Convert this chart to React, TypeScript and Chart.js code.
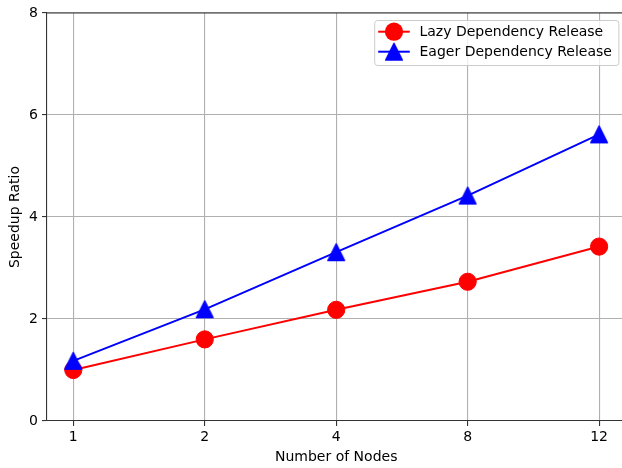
import React, { useEffect, useRef } from "react";
import { Chart, registerables } from "chart.js";

Chart.register(...registerables);

const nodeCounts = ["1", "2", "4", "8", "12"];
const lazySpeedup = [1.0, 1.6, 2.18, 2.73, 3.42];
const eagerSpeedup = [1.18, 2.19, 3.31, 4.42, 5.62];
const seriesNames = ["Lazy Dependency Release", "Eager Dependency Release"];
const seriesColors = ["#ff0000", "#0000ff"];
const yMin = 0;
const yMax = 8;
const yStep = 2;
const xTitle = "Number of Nodes";
const yTitle = "Speedup Ratio";

const FONT = "'DejaVu Sans', 'Liberation Sans', sans-serif";

function makeTriangle(color: string): HTMLCanvasElement {
  const c = document.createElement("canvas");
  c.width = 22;
  c.height = 22;
  const g = c.getContext("2d")!;
  const cx = 11, cy = 11, s = 8.35;
  g.beginPath();
  g.moveTo(cx, cy - s);
  g.lineTo(cx - s, cy + s);
  g.lineTo(cx + s, cy + s);
  g.closePath();
  g.fillStyle = color;
  g.fill();
  g.lineJoin = "round";
  g.lineWidth = 1.39;
  g.strokeStyle = color;
  g.stroke();
  return c;
}

const spinesPlugin = {
  id: "spines",
  afterDatasetsDraw(chart: any) {
    const { ctx, chartArea: a } = chart;
    ctx.save();
    ctx.strokeStyle = "#333";
    ctx.lineWidth = 1.1;
    ctx.beginPath();
    ctx.moveTo(a.left, a.top);
    ctx.lineTo(a.right, a.top);
    ctx.lineTo(a.right, a.bottom);
    ctx.stroke();
    ctx.restore();
  },
};

const legendPlugin = {
  id: "mplLegend",
  afterDraw(chart: any) {
    const { ctx, chartArea: a } = chart;
    ctx.save();
    ctx.font = `14px ${FONT}`;
    const items = chart.data.datasets.map((ds: any) => ({
      label: ds.label,
      color: ds.borderColor,
      style: ds.pointStyle,
      radius: ds.pointRadius,
    }));
    const textW = Math.max(...items.map((i: any) => ctx.measureText(i.label).width));
    const right = a.right - 7;
    const top = a.top + 7;
    const w = 45.3 + textW + 6.5;
    const h = 45;
    const left = right - w;
    ctx.beginPath();
    if ((ctx as any).roundRect) (ctx as any).roundRect(left + 0.5, top + 0.5, w, h, 3);
    else ctx.rect(left + 0.5, top + 0.5, w, h);
    ctx.fillStyle = "rgba(255,255,255,0.8)";
    ctx.fill();
    ctx.strokeStyle = "#cccccc";
    ctx.lineWidth = 1;
    ctx.stroke();
    items.forEach((it: any, i: number) => {
      const cy = top + 11.7 + i * 20;
      ctx.beginPath();
      ctx.strokeStyle = it.color;
      ctx.lineWidth = 2;
      ctx.moveTo(left + 4, cy);
      ctx.lineTo(left + 35.6, cy);
      ctx.stroke();
      const mx = left + 19.8;
      if (it.style instanceof HTMLCanvasElement) {
        ctx.drawImage(it.style, mx - it.style.width / 2, cy - it.style.height / 2);
      } else {
        ctx.beginPath();
        ctx.arc(mx, cy, it.radius + 0.5, 0, Math.PI * 2);
        ctx.fillStyle = it.color;
        ctx.fill();
      }
      ctx.fillStyle = "#000";
      ctx.textBaseline = "middle";
      ctx.textAlign = "left";
      ctx.fillText(it.label, left + 45.3, cy + 1);
    });
    ctx.restore();
  },
};

export default function App() {
  const ref = useRef<HTMLCanvasElement | null>(null);

  useEffect(() => {
    if (!ref.current) return;
    const tri = makeTriangle(seriesColors[1]);
    const chart = new Chart(ref.current, {
      type: "line",
      data: {
        datasets: [
          {
            label: seriesNames[0],
            data: lazySpeedup.map((y, i) => ({ x: i, y })),
            borderColor: seriesColors[0],
            backgroundColor: seriesColors[0],
            borderWidth: 2,
            pointStyle: "circle",
            pointRadius: 8.6,
            pointBorderWidth: 1,
            pointBackgroundColor: seriesColors[0],
            pointBorderColor: seriesColors[0],
            tension: 0,
            order: 1,
          },
          {
            label: seriesNames[1],
            data: eagerSpeedup.map((y, i) => ({ x: i, y })),
            borderColor: seriesColors[1],
            backgroundColor: seriesColors[1],
            borderWidth: 2,
            pointStyle: tri as any,
            pointRadius: 9,
            pointBorderWidth: 0,
            tension: 0,
            order: 0,
          },
        ],
      },
      options: {
        animation: false,
        responsive: false,
        devicePixelRatio: 1,
        layout: { padding: { top: 13, right: 5, left: 0, bottom: 0 } },
        plugins: { legend: { display: false }, tooltip: { enabled: false } },
        scales: {
          x: {
            type: "linear",
            min: -0.2,
            max: nodeCounts.length - 1 + 0.2,
            afterBuildTicks: (scale: any) => {
              scale.ticks = nodeCounts.map((_, i) => ({ value: i }));
            },
            afterFit: (scale: any) => {
              scale.height = 47;
              scale.paddingLeft = 0;
              scale.paddingRight = 0;
            },
            ticks: {
              callback: (v: any) => nodeCounts[Math.round(Number(v))] ?? "",
              color: "#000",
              font: { family: FONT, size: 14 },
              padding: 3,
              maxRotation: 0,
              autoSkip: false,
            },
            grid: {
              color: "#b0b0b0",
              lineWidth: 1.1,
              drawTicks: true,
              tickLength: 5,
              tickColor: "#333",
              tickWidth: 1.1,
            },
            border: { color: "#333", width: 1.1 },
            title: {
              display: true,
              text: xTitle,
              color: "#000",
              font: { family: FONT, size: 14 },
              padding: 2,
            },
          },
          y: {
            type: "linear",
            min: yMin,
            max: yMax,
            afterFit: (scale: any) => {
              scale.width = 47;
            },
            ticks: {
              stepSize: yStep,
              color: "#000",
              font: { family: FONT, size: 14 },
              padding: 4,
            },
            grid: {
              color: "#b0b0b0",
              lineWidth: 1.1,
              drawTicks: true,
              tickLength: 5,
              tickColor: "#333",
              tickWidth: 1.1,
            },
            border: { color: "#333", width: 1.1 },
            title: {
              display: true,
              text: yTitle,
              color: "#000",
              font: { family: FONT, size: 14 },
              padding: 7,
            },
          },
        },
      },
      plugins: [spinesPlugin, legendPlugin],
    } as any);
    return () => chart.destroy();
  }, []);

  return (
    <div
      style={{
        position: "absolute",
        left: 0,
        top: 0,
        width: 622,
        height: 468,
        overflow: "hidden",
        background: "#fff",
      }}
    >
      <canvas ref={ref} width={635} height={468} style={{ display: "block", width: 635, height: 468 }} />
    </div>
  );
}
